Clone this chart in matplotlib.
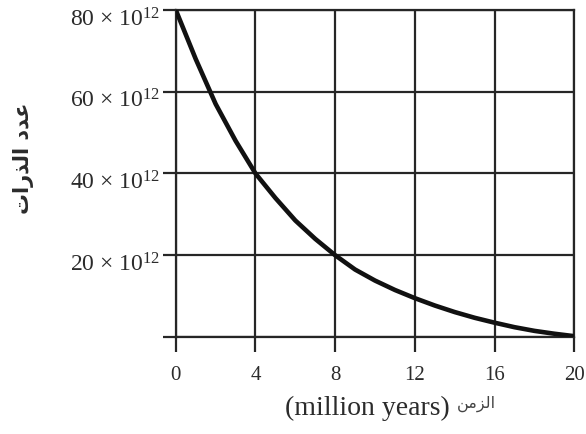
import matplotlib
matplotlib.use("Agg")
import matplotlib.pyplot as plt
import matplotlib.transforms as mtransforms

# data
time_myr = [0, 1, 2, 3, 4, 5, 6, 7, 8, 9, 10, 11, 12, 13, 14, 15, 16, 17, 18, 19, 20]
atoms_e12 = [80, 68, 57, 48, 40, 34, 28.5, 24, 20, 16.5, 13.8, 11.5, 9.5, 7.7,
             6.1, 4.7, 3.5, 2.4, 1.5, 0.8, 0.2]
x_ticks = [0, 4, 8, 12, 16, 20]
y_ticks = [0, 20, 40, 60, 80]
y_tick_labels = ["", r"20 $\times$ 10$^{12}$", r"40 $\times$ 10$^{12}$",
                 r"60 $\times$ 10$^{12}$", r"80 $\times$ 10$^{12}$"]

# Arabic in presentation forms (visual order) since matplotlib does no shaping
ylabel_ar = "\uFE95\uFE8D\uFEAD\uFEAC\uFEDF\uFE8D \uFEA9\uFEAA\uFECB"   # عدد الذرات
xlabel_ar = "\uFEE6\uFEE3\uFEB0\uFEDF\uFE8D"                            # الزمن
xlabel_en = "(million years)"

plt.rcParams["font.family"] = ["Liberation Serif", "DejaVu Sans"]
plt.rcParams["mathtext.fontset"] = "custom"
plt.rcParams["mathtext.rm"] = "Liberation Serif"
plt.rcParams["mathtext.it"] = "Liberation Serif:italic"

line_col = "#262626"
text_col = "#2b2b2b"

fig = plt.figure(figsize=(5.86, 4.34), dpi=100)
ax = fig.add_axes([0.300, 0.2235, 0.680, 0.7535])

ax.plot(time_myr, atoms_e12, color="#111111", lw=3.3, solid_capstyle="round", zorder=3)

ax.set_xlim(0, 20)
ax.set_ylim(0, 80)
ax.set_xticks(x_ticks)
ax.set_yticks(y_ticks)
ax.set_yticklabels(y_tick_labels)
ax.grid(True, color=line_col, lw=1.6)
for s in ax.spines.values():
    s.set_color(line_col)
    s.set_linewidth(1.6)
ax.tick_params(axis="x", length=11, width=1.6, color=line_col, pad=10,
               labelsize=15, labelcolor=text_col)
ax.tick_params(axis="y", length=9.5, width=1.6, color=line_col, pad=2,
               labelsize=17, labelcolor=text_col)

# y labels sit a little below their grid line in the reference
off = mtransforms.ScaledTranslation(0, 1.5 / 72, fig.dpi_scale_trans)
for lab in ax.get_yticklabels():
    lab.set_verticalalignment("top")
    lab.set_transform(lab.get_transform() + off)

fig.text(0.040, 0.636, ylabel_ar, rotation=90, ha="center", va="center",
         fontsize=15, fontweight="bold", family="DejaVu Sans", color=text_col)
fig.text(0.768, 0.044, xlabel_en, ha="right", va="baseline",
         fontsize=20, color=text_col)
fig.text(0.779, 0.060, xlabel_ar, ha="left", va="baseline",
         fontsize=11.5, family="DejaVu Sans", color="#444444")

fig.savefig("out.png", dpi=100)
